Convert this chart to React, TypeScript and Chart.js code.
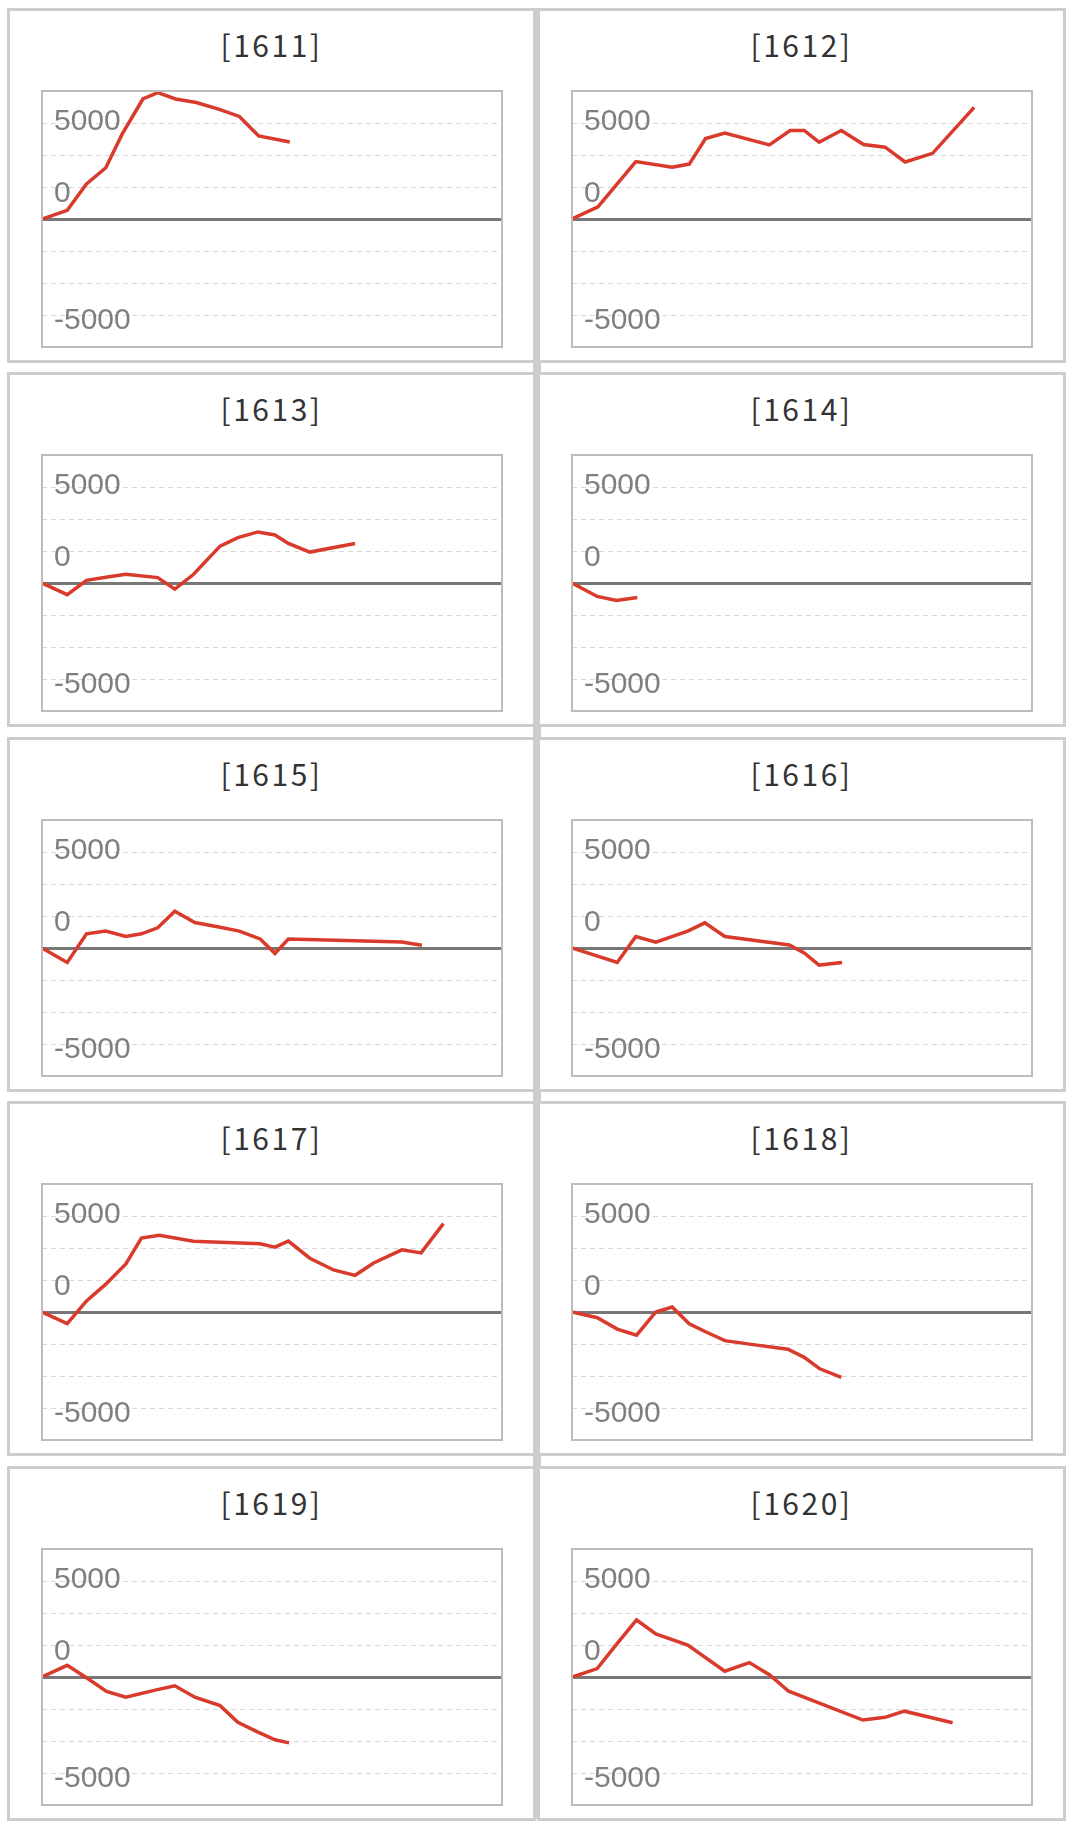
import React, { useEffect, useRef } from 'react';
import { Chart, registerables } from 'chart.js';

Chart.register(...registerables);

// month codes in page order, two per row
const months = ['1611', '1612', '1613', '1614', '1615', '1616', '1617', '1618', '1619', '1620'];

// day of month (x) and running balance (y) for each month
const days1611 = [0, 1.7, 3.0, 4.3, 5.4, 6.8, 7.8, 9.0, 10.4, 11.9, 13.3, 14.6, 16.7];
const balance1611 = [0, 450, 1830, 2670, 4420, 6250, 6580, 6250, 6070, 5720, 5340, 4330, 4010];

const days1612 = [0, 1.75, 4.3, 6.75, 7.9, 9.0, 10.3, 13.3, 14.7, 15.65, 16.65, 18.15, 19.65, 21.1, 22.45, 24.3, 27.1];
const balance1612 = [0, 630, 2990, 2700, 2860, 4190, 4470, 3860, 4610, 4610, 4000, 4610, 3880, 3740, 2970, 3420, 5810];

const days1613 = [0, 1.7, 3.0, 4.3, 5.65, 7.8, 8.95, 10.2, 12.0, 13.2, 14.55, 15.7, 16.6, 18.05, 21.1];
const balance1613 = [0, -610, 140, 300, 460, 280, -320, 440, 1920, 2360, 2660, 2500, 2060, 1610, 2060];

const days1614 = [0, 1.7, 3.0, 4.4];
const balance1614 = [0, -700, -910, -750];

const days1615 = [0, 1.7, 3.0, 4.3, 5.65, 6.7, 7.8, 8.95, 10.3, 12.0, 13.3, 14.7, 15.7, 16.6, 24.25, 25.6];
const balance1615 = [0, -750, 740, 880, 600, 740, 1050, 1920, 1330, 1080, 880, 470, -280, 470, 310, 140];

const days1616 = [0, 3.05, 4.3, 5.65, 7.8, 8.95, 10.3, 14.65, 15.65, 16.65, 18.2];
const balance1616 = [0, -750, 600, 300, 880, 1310, 600, 160, -260, -890, -750];

const days1617 = [0, 1.7, 3.0, 4.3, 5.65, 6.7, 7.9, 10.2, 14.7, 15.7, 16.6, 18.05, 19.65, 21.1, 22.35, 24.25, 25.55, 27.05];
const balance1617 = [0, -610, 580, 1450, 2500, 3850, 3990, 3690, 3550, 3380, 3690, 2800, 2190, 1910, 2550, 3240, 3080, 4600];

const days1618 = [0, 1.7, 3.05, 4.35, 5.65, 6.75, 7.9, 9.0, 10.3, 12.2, 14.55, 15.65, 16.7, 18.15];
const balance1618 = [0, -300, -890, -1210, 0, 260, -610, -1030, -1490, -1700, -1940, -2360, -2960, -3410];

const days1619 = [0, 1.7, 3.1, 4.35, 5.65, 7.7, 8.95, 10.3, 12.0, 13.2, 14.45, 15.7, 16.65];
const balance1619 = [0, 610, -90, -750, -1050, -670, -460, -1050, -1490, -2360, -2830, -3270, -3430];

const days1620 = [0, 1.7, 3.05, 4.35, 5.65, 7.8, 10.3, 11.95, 13.3, 14.6, 19.6, 21.1, 22.4, 25.65];
const balance1620 = [0, 440, 1750, 2970, 2240, 1660, 300, 750, 120, -740, -2240, -2100, -1780, -2380];

const allDays = [days1611, days1612, days1613, days1614, days1615, days1616, days1617, days1618, days1619, days1620];
const allBalances = [balance1611, balance1612, balance1613, balance1614, balance1615, balance1616, balance1617, balance1618, balance1619, balance1620];

// y tick labels that are printed inside the plot
const yTickLabels = [5000, 0, -5000];

const Y_MAX = 20000 / 3;
const Y_STEP = 5000 / 3;

const isZero = (v: number) => Math.abs(v) < 1e-6;

// nudges the printed labels the way the original chart places them
const labelShift = (v: number) => {
  if (v === 0) return -25;
  if (v > 0) return -1.5;
  return 5.5;
};

const framePlugin = {
  id: 'frame',
  afterDraw(chart: any) {
    const { ctx, chartArea: a, scales } = chart;
    ctx.save();
    ctx.strokeStyle = '#bdbdbd';
    ctx.lineWidth = 2;
    ctx.strokeRect(a.left, a.top, a.right - a.left, a.bottom - a.top);
    ctx.font = '30px "Liberation Sans", Arial, sans-serif';
    ctx.fillStyle = '#7f7f7f';
    ctx.textAlign = 'left';
    ctx.textBaseline = 'middle';
    yTickLabels.forEach((v) => {
      ctx.fillText(String(v), a.left + 12, scales.y.getPixelForValue(v) + labelShift(v));
    });
    ctx.restore();
  },
};

const MonthChart: React.FC<{ days: number[]; balance: number[] }> = ({ days, balance }) => {
  const chartRef = useRef<HTMLCanvasElement | null>(null);
  const chartInstanceRef = useRef<Chart | null>(null);

  useEffect(() => {
    if (!chartRef.current) return;
    const ctx = chartRef.current.getContext('2d');
    if (!ctx) return;
    if (chartInstanceRef.current) chartInstanceRef.current.destroy();

    chartInstanceRef.current = new Chart(ctx, {
      type: 'line',
      data: {
        datasets: [
          {
            data: days.map((d, i) => ({ x: d, y: balance[i] })),
            borderColor: '#d83a2b',
            borderWidth: 3.5,
            pointRadius: 0,
            tension: 0,
            fill: false,
          },
        ],
      },
      options: {
        animation: false,
        responsive: false,
        layout: { padding: 6 },
        plugins: { legend: { display: false }, tooltip: { enabled: false } },
        scales: {
          x: { type: 'linear', min: 0, max: 31, display: false },
          y: {
            min: -Y_MAX,
            max: Y_MAX,
            ticks: { display: false, stepSize: Y_STEP },
            grid: {
              drawTicks: false,
              color: (c: any) => (isZero(c.tick.value) ? '#777777' : '#d8d8d8'),
              lineWidth: (c: any) => (isZero(c.tick.value) ? 3 : 1),
            },
            border: {
              display: false,
              dash: (c: any) => (c.tick && isZero(c.tick.value) ? [] : [5, 4]),
            },
          },
        },
      },
      plugins: [framePlugin],
    });

    return () => {
      if (chartInstanceRef.current) {
        chartInstanceRef.current.destroy();
        chartInstanceRef.current = null;
      }
    };
  }, [days, balance]);

  return <canvas ref={chartRef} width={472} height={268}></canvas>;
};

const App: React.FC = () => {
  const border = '#cdcdcd';
  return (
    <div style={{ position: 'absolute', left: 0, top: 0, width: 1071, height: 1830, background: '#fff' }}>
      <div style={{ position: 'absolute', left: 533, top: 8, width: 8, height: 1811, background: border }} />
      {months.map((m, i) => {
        const col = i % 2;
        const row = Math.floor(i / 2);
        return (
          <div
            key={m}
            style={{
              position: 'absolute',
              left: 7 + col * 530,
              top: 8 + Math.round(row * 364.4),
              width: 529,
              height: 355,
              boxSizing: 'border-box',
              border: `3px solid ${border}`,
              background: '#fff',
            }}
          >
            <div
              style={{
                position: 'absolute',
                left: 0,
                right: 0,
                top: 18,
                textAlign: 'center',
                fontFamily: '"Noto Sans CJK JP", "Noto Sans", sans-serif',
                fontWeight: 400,
                fontSize: 30,
                lineHeight: '30px',
                letterSpacing: 2.5,
                color: '#333',
              }}
            >
              [{m}]
            </div>
            <div style={{ position: 'absolute', left: 26, top: 74 }}>
              <MonthChart days={allDays[i]} balance={allBalances[i]} />
            </div>
          </div>
        );
      })}
    </div>
  );
};

export default App;
